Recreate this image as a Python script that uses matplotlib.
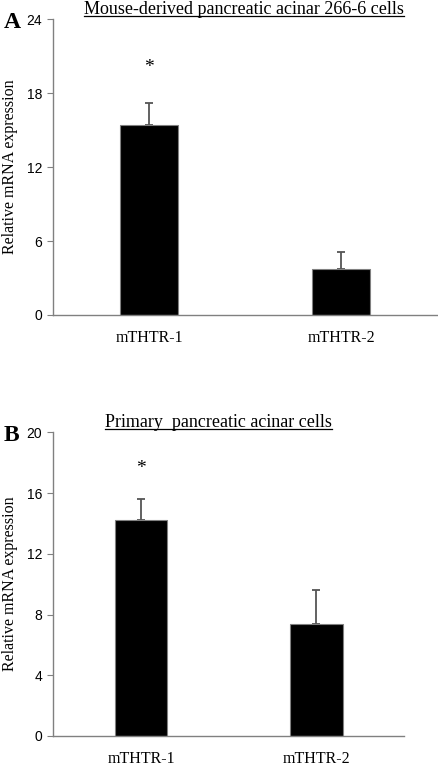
import matplotlib.pyplot as plt

# data
genes = ["mTHTR-1", "mTHTR-2"]
cell_line_mean = [15.4, 3.7]
cell_line_err = [1.8, 1.4]
primary_mean = [14.2, 7.4]
primary_err = [1.4, 2.2]

serif = "Liberation Serif"
sans = "Liberation Sans"

fig = plt.figure(figsize=(4.38, 7.66), dpi=100)
ax1 = fig.add_axes([0.1217, 0.5888, 0.876, 0.386])
ax2 = fig.add_axes([0.1217, 0.0392, 0.801, 0.3964])


def draw_panel(ax, means, errs, ymax, yticks, title, title_x, letter, star_y):
    x = range(len(genes))
    ax.bar(x, means, width=0.30, color="black", edgecolor="#808080", linewidth=0.8, zorder=2)
    ax.errorbar(x, means, yerr=[[0] * len(errs), errs], fmt="none",
                ecolor="#555555", elinewidth=1.3, capsize=3, capthick=1.3, zorder=1)
    ax.set_xlim(-0.5, 1.5)
    ax.set_ylim(0, ymax)
    ax.set_yticks(yticks)
    ax.set_xticks(list(x))
    ax.set_xticklabels(genes, fontfamily=serif, fontsize=11.5)
    ax.tick_params(axis="x", length=0, pad=11)
    ax.tick_params(axis="y", length=4, color="#808080", labelsize=10, pad=4)
    for lab in ax.get_yticklabels():
        lab.set_fontfamily(sans)
    for side in ["top", "right"]:
        ax.spines[side].set_visible(False)
    for side in ["left", "bottom"]:
        ax.spines[side].set_color("#808080")
        ax.spines[side].set_linewidth(1.0)
    width_px = ax.get_position().width * 438
    ax.set_ylabel("Relative mRNA expression", fontfamily=serif, fontsize=11.5)
    ax.yaxis.set_label_coords(-35 / width_px, 0.5)
    ax.text(0, star_y, "*", ha="center", va="center", fontsize=14, fontfamily=serif)
    ax.text(title_x, 1.005, title, transform=ax.transAxes, ha="center", va="bottom",
            fontfamily=serif, fontsize=13)
    ax.text(-50 / width_px, 0.99, letter, transform=ax.transAxes, ha="left", va="center",
            fontfamily=serif, fontsize=17, fontweight="bold")
    return ax


draw_panel(ax1, cell_line_mean, cell_line_err, 24, [0, 6, 12, 18, 24],
           "Mouse-derived pancreatic acinar 266-6 cells", 0.497, "A", 20.1)
draw_panel(ax2, primary_mean, primary_err, 20, [0, 4, 8, 12, 16, 20],
           "Primary  pancreatic acinar cells", 0.472, "B", 17.6)

# underline titles
fig.canvas.draw()
renderer = fig.canvas.get_renderer()
for ax in (ax1, ax2):
    for t in ax.texts:
        if t.get_text().endswith("cells"):
            bb = t.get_window_extent(renderer).transformed(fig.transFigure.inverted())
            y = bb.y0 + 0.002
            fig.add_artist(plt.Line2D([bb.x0, bb.x1], [y, y], color="black", linewidth=0.9))

plt.savefig("out.png", dpi=100)
